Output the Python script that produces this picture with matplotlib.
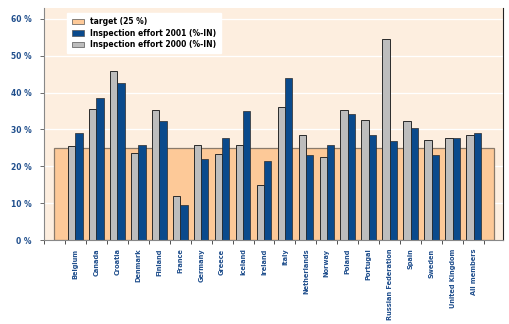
import matplotlib.pyplot as plt
import numpy as np
from matplotlib.patches import Patch

# 国名
countries = ["Belgium", "Canada", "Croatia", "Denmark", "Finland", "France",
             "Germany", "Greece", "Iceland", "Ireland", "Italy", "Netherlands",
             "Norway", "Poland", "Portugal", "Russian Federation", "Spain",
             "Sweden", "United Kingdom", "All members"]
effort_2000 = [25.5, 35.5, 45.8, 23.5, 35.2, 11.9, 25.7, 23.3, 25.7, 14.9,
               36.0, 28.5, 22.4, 35.2, 32.5, 54.4, 32.2, 27.1, 27.6, 28.5]
effort_2001 = [28.9, 38.5, 42.5, 25.7, 32.4, 9.5, 21.9, 27.8, 34.9, 21.4,
               43.9, 23.2, 25.7, 34.1, 28.5, 26.8, 30.3, 23.2, 27.6, 28.9]
target = 25
yticks = [0, 10, 20, 30, 40, 50, 60]

navy = '#1f4e8c'
blue = '#0a4a8c'
grey = '#bdbdbd'
peach = '#fdc998'
bg = '#fdeedf'

plt.rcParams['font.family'] = ['Liberation Sans Narrow', 'DejaVu Sans']

fig = plt.figure(figsize=(5.1, 3.24), dpi=100)
ax = fig.add_axes([0.0863, 0.259, 0.8997, 0.716])
ax.set_facecolor(bg)

x = np.arange(1, len(countries) + 1)
w = 0.35

# 目標値の範囲
ax.bar(10.5, target, width=21, color=peach, edgecolor='#8a7a6a', linewidth=0.9, zorder=1)

for t in yticks[1:]:
    ax.axhline(t, color='white', lw=0.9, zorder=0.5)

ax.bar(x - w / 2, effort_2000, width=w, color=grey, edgecolor='#2a2a2a', linewidth=0.7, zorder=2)
ax.bar(x + w / 2, effort_2001, width=w, color=blue, edgecolor='#2a2a2a', linewidth=0.5, zorder=2)

ax.set_xlim(-0.5, 21.4)
ax.set_ylim(0, 62.9)

ax.set_yticks(yticks)
ax.set_yticklabels([f"{t} %" for t in yticks], color=navy, fontsize=5.5, fontweight='bold')
ax.tick_params(axis='y', length=3, width=0.6, color='#555555', pad=6)

ax.set_xticks(np.arange(-0.5, 21, 1), minor=True)
ax.set_xticks(x)
ax.set_xticklabels(countries, rotation=90, color=navy, fontsize=4.8, fontweight='bold', va='top')
ax.tick_params(axis='x', which='major', length=0, pad=6)
ax.tick_params(axis='x', which='minor', length=3, width=0.6, color='#333333')

ax.spines['top'].set_visible(False)
ax.spines['left'].set_color('#888888')
ax.spines['bottom'].set_color('#888888')
ax.spines['right'].set_color('#222222')
for s in ['left', 'bottom', 'right']:
    ax.spines[s].set_linewidth(0.8)

handles = [Patch(facecolor=peach, edgecolor='#555555', lw=0.5, label='target (25 %)'),
           Patch(facecolor=blue, edgecolor='#555555', lw=0.5, label='Inspection effort 2001 (%-IN)'),
           Patch(facecolor=grey, edgecolor='#555555', lw=0.5, label='Inspection effort 2000 (%-IN)')]
leg = ax.legend(handles=handles, loc='upper left', bbox_to_anchor=(0.05, 0.98),
                frameon=True, fancybox=False, framealpha=1, edgecolor='white',
                prop={'size': 5.5, 'weight': 'bold'}, handlelength=1.6, handleheight=0.7,
                borderpad=0.6, labelspacing=0.3, borderaxespad=0)
leg.set_zorder(5)

fig.savefig('out.png', dpi=100)
